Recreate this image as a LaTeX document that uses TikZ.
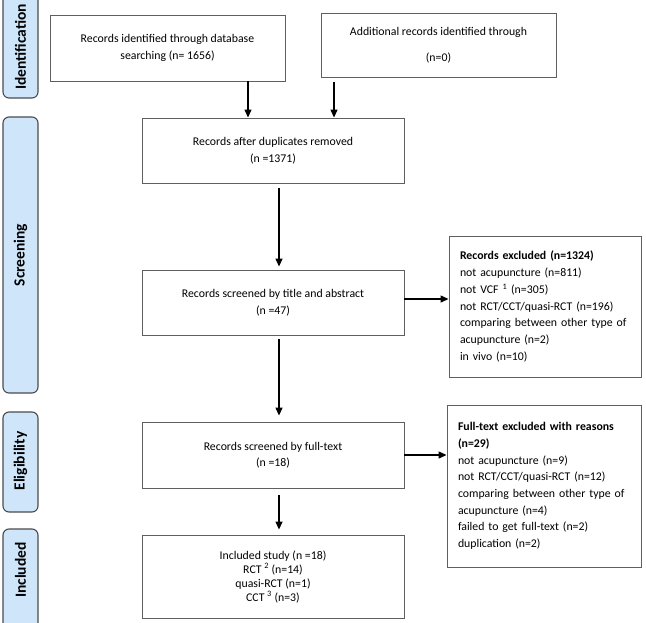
\documentclass[tikz,border=0pt]{standalone}
\usepackage{fontspec}
\setmainfont{Carlito}
\usetikzlibrary{arrows.meta}
\definecolor{boxline}{RGB}{95,95,95}
\definecolor{tabfill}{RGB}{207,230,250}
\definecolor{tabline}{RGB}{75,75,75}
\begin{document}
\begin{tikzpicture}[x=1pt,y=-1pt,
  flowbox/.style={draw=boxline, line width=0.9pt, inner sep=0pt, align=center, font=\fontsize{11.8}{16.5}\selectfont},
  listbox/.style={draw=boxline, line width=0.9pt, inner xsep=11pt, inner ysep=0pt, align=left, font=\fontsize{11.8}{16.7}\selectfont},
  tab/.style={draw=tabline, fill=tabfill, line width=1.1pt, rounded corners=6pt},
  tabtext/.style={rotate=90, inner sep=0pt, font=\fontsize{15.5}{18}\selectfont\bfseries},
  arr/.style={black, line width=1.3pt, -{Triangle[length=8pt,width=7pt]}}
]
\useasboundingbox (0,0) rectangle (646,622);

% side tabs
\draw[tab] (3,-12) rectangle (38,98);
\node[tabtext] (tid) at (20.5,47) {Identification};
\draw[tab] (3,117) rectangle (38,393);
\node[tabtext] (tsc) at (20.5,255) {Screening};
\draw[tab] (3,412) rectangle (38,512);
\node[tabtext] (tel) at (20.5,461) {Eligibility};
\draw[tab] (3,529) rectangle (38,632);
\node[tabtext] (tin) at (20.5,570) {Included};

% boxes
\node[flowbox, minimum width=235pt, minimum height=66pt] (b1) at (167.5,48)
  {Records identified through database\\searching (n= 1656)};
\node[flowbox, minimum width=235pt, minimum height=64pt] (b2) at (438.5,45)
  {Additional records identified through\\[10pt](n=0)};
\node[flowbox, minimum width=262pt, minimum height=65pt] (b3) at (273,150.5)
  {Records after duplicates removed\\(n =1371)};
\node[flowbox, minimum width=262pt, minimum height=65pt] (b4) at (273,302.5)
  {Records screened by title and abstract\\(n =47)};
\node[flowbox, minimum width=262pt, minimum height=66pt] (b6) at (273,455)
  {Records screened by full-text\\(n =18)};
\node[flowbox, minimum width=262pt, minimum height=83pt, font=\fontsize{11.8}{14}\selectfont] (b8) at (273,576.5)
  {Included study (n =18)\\RCT \textsuperscript{2} (n=14)\\quasi-RCT (n=1)\\CCT \textsuperscript{3} (n=3)};
\node[listbox, text width=170pt, minimum height=141pt] (b5) at (545,306.5)
  {\textbf{Records excluded (n=1324)}\\not acupuncture (n=811)\\not VCF \textsuperscript{1} (n=305)\\not RCT/CCT/quasi-RCT (n=196)\\comparing between other type of\\acupuncture (n=2)\\in vivo (n=10)};
\node[listbox, text width=172pt, minimum height=162pt] (b7) at (544,486)
  {\textbf{Full-text excluded with reasons}\\\textbf{(n=29)}\\not acupuncture (n=9)\\not RCT/CCT/quasi-RCT (n=12)\\comparing between other type of\\acupuncture (n=4)\\failed to get full-text (n=2)\\duplication (n=2)\\[4pt]};

% arrows
\draw[arr] ([xshift=80.5pt]b1.south) -- ([xshift=-25pt]b3.north);
\draw[arr] ([xshift=-104.5pt,yshift=-5pt]b2.south) -- ([xshift=61pt]b3.north);
\draw[arr] ([xshift=6pt,yshift=-5pt]b3.south) -- ([xshift=6pt,yshift=3pt]b4.north);
\draw[arr] ([xshift=6pt,yshift=-4pt]b4.south) -- ([xshift=6pt,yshift=6pt]b6.north);
\draw[arr] ([xshift=6pt,yshift=-7pt]b6.south) -- ([xshift=6pt,yshift=5pt]b8.north);
\draw[arr] ([yshift=3.5pt]b4.east) -- ([yshift=3.5pt]b4.east -| b5.west);
\draw[arr] (b6.east) -- (b6.east -| b7.west);
\end{tikzpicture}
\end{document}
